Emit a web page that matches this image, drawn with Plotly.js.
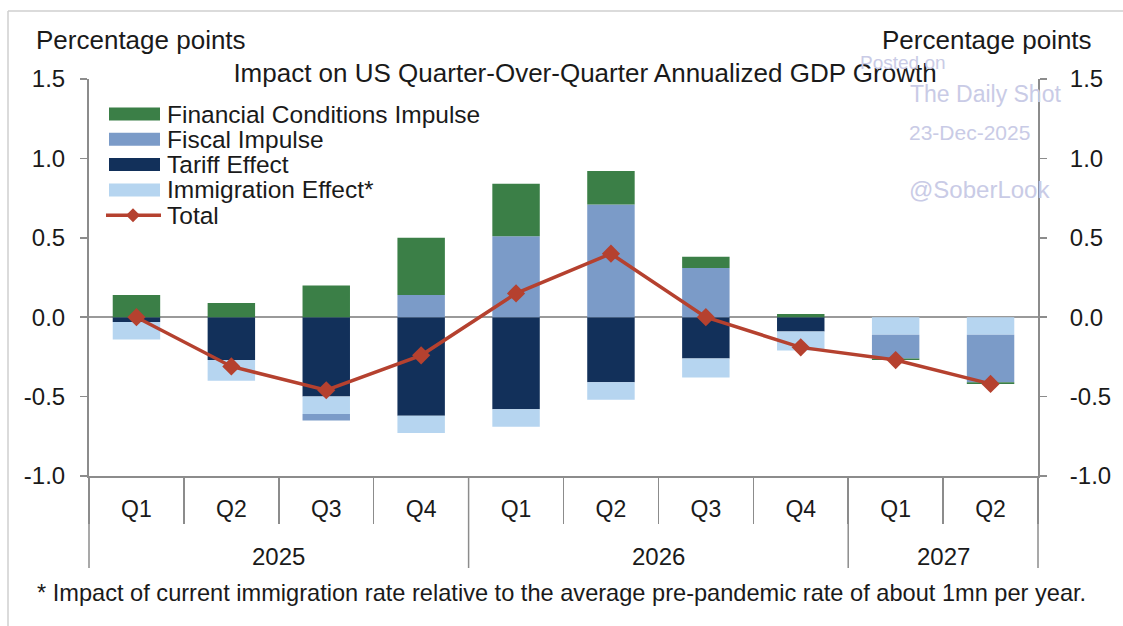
<!DOCTYPE html>
<html><head><meta charset="utf-8">
<script src="https://cdn.plot.ly/plotly-3.0.1.min.js"></script>
<style>html,body{margin:0;padding:0;background:#fff}#chart{width:1123px;height:626px}</style>
</head><body><div id="chart"></div>
<script>
// ---- data ----
const years = ['2025','2025','2025','2025','2026','2026','2026','2026','2027','2027'];
const quarters = ['Q1','Q2','Q3','Q4','Q1','Q2','Q3','Q4','Q1','Q2'];
const financial = [0.14, 0.09, 0.20, 0.36, 0.33, 0.21, 0.07, 0.02, -0.01, -0.01];
const fiscal = [0.00, 0.00, -0.04, 0.14, 0.51, 0.71, 0.31, 0.00, -0.15, -0.30];
const tariff = [-0.03, -0.27, -0.50, -0.62, -0.58, -0.41, -0.26, -0.09, 0.00, 0.00];
const immigration = [-0.11, -0.13, -0.11, -0.11, -0.11, -0.11, -0.12, -0.12, -0.11, -0.11];
const total = [0.00, -0.31, -0.46, -0.24, 0.15, 0.40, 0.00, -0.19, -0.27, -0.42];
const yTickVals = [-1.0, -0.5, 0.0, 0.5, 1.0, 1.5];
const yTickText = ['-1.0', '-0.5', '0.0', '0.5', '1.0', '1.5'];
const seriesNames = ['Financial Conditions Impulse', 'Fiscal Impulse', 'Tariff Effect', 'Immigration Effect*', 'Total'];

// ---- style ----
const FONT = 'Liberation Sans, Arial, sans-serif';
const TXT = '#1a1a1a';
const AX = '#8c8c8c';
const C = {fin: '#3b7f47', fis: '#7b9bc8', tar: '#12305a', imm: '#b6d5f0', tot: '#b5412f'};
const W = 1123, H = 626, L = 89, R = 1038, T = 79, B = 476;
const px = X => (X - L) / (R - L);
const py = Y => (B - Y) / (B - T);

// one unique category per quarter; the axis shows the quarter, the year is a second tier
const cats = years.map((y, i) => y + ' ' + quarters[i]);
const n = cats.length;
const x = cats;
const bar = (name, y, color) => ({type: 'bar', name, x, y, marker: {color, line: {width: 0}}, showlegend: false, hoverinfo: 'name+y'});
const traces = [
  bar(seriesNames[2], tariff, C.tar),
  bar(seriesNames[3], immigration, C.imm),
  bar(seriesNames[1], fiscal, C.fis),
  bar(seriesNames[0], financial, C.fin),
  {type: 'scatter', mode: 'lines+markers', name: seriesNames[4], x, y: total, yaxis: 'y2',
   line: {color: C.tot, width: 3.5}, marker: {symbol: 'diamond', size: 14, color: C.tot}, showlegend: false}
];

const yax = {
  range: [-1, 1.5], autorange: false, tickvals: yTickVals, ticktext: yTickText,
  ticks: 'outside', ticklen: 7, tickcolor: AX, tickwidth: 1.5,
  showline: true, linecolor: AX, linewidth: 2, showgrid: false,
  tickfont: {family: FONT, size: 24, color: TXT}
};

const shapes = [];
const annotations = [];

// year tier: labels centred under their quarters, dividers at year boundaries
const yearList = [...new Set(years)];
const bounds = [-0.5];
yearList.forEach(yr => {
  const idx = years.map((v, i) => v === yr ? i : -1).filter(i => i >= 0);
  const mid = (idx[0] + idx[idx.length - 1]) / 2;
  annotations.push({xref: 'x', yref: 'paper', x: mid, y: py(556), xanchor: 'center', yanchor: 'middle',
    text: yr, showarrow: false, font: {family: FONT, size: 24, color: TXT}});
  bounds.push(idx[idx.length - 1] + 0.5);
});
bounds.forEach(b => {
  const xp = (b + 0.5) / n;
  shapes.push({type: 'line', xref: 'paper', yref: 'paper', x0: xp, x1: xp, y0: 0, y1: py(568),
    line: {color: AX, width: 1.5}});
});

// manual legend (wide swatches like the original)
const legColors = [C.fin, C.fis, C.tar, C.imm];
const legY0 = 114, legDY = 25.3;
seriesNames.forEach((nm, i) => {
  const yc = legY0 + i * legDY;
  if (i < 4) {
    shapes.push({type: 'rect', xref: 'paper', yref: 'paper', x0: px(109), x1: px(160), y0: py(yc - 6.5), y1: py(yc + 6.5),
      fillcolor: legColors[i], line: {width: 0}});
  } else {
    shapes.push({type: 'line', xref: 'paper', yref: 'paper', x0: px(106), x1: px(161), y0: py(yc), y1: py(yc),
      line: {color: C.tot, width: 3.5}});
    shapes.push({type: 'path', xref: 'paper', yref: 'paper', fillcolor: C.tot, line: {width: 0},
      path: `M ${px(133)} ${py(yc - 7)} L ${px(140)} ${py(yc)} L ${px(133)} ${py(yc + 7)} L ${px(126)} ${py(yc)} Z`});
  }
  annotations.push({xref: 'paper', yref: 'paper', x: px(165), y: py(yc), xanchor: 'left', yanchor: 'middle',
    text: nm, showarrow: false, font: {family: FONT, size: 24.5, color: TXT}});
});

// frame
shapes.push({type: 'line', xref: 'paper', yref: 'paper', x0: px(8), x1: px(8), y0: py(11), y1: py(H + 5), line: {color: '#cfcfcf', width: 1.5}});
shapes.push({type: 'line', xref: 'paper', yref: 'paper', x0: px(8), x1: px(W + 5), y0: py(11), y1: py(11), line: {color: '#cfcfcf', width: 1.5}});

const ann = (t, X, Y, size, color, xa) => ({xref: 'paper', yref: 'paper', x: px(X), y: py(Y), xanchor: xa || 'left', yanchor: 'middle',
  text: t, showarrow: false, font: {family: FONT, size, color: color || TXT}});
annotations.push(ann('Percentage points', 34, 40, 26));
annotations.push(ann('Percentage points', 1094, 40, 26, TXT, 'right'));
const WM = '#c9cbe6';
annotations.push(ann('Posted on', 858, 62, 19, WM));
annotations.push(ann('The Daily Shot', 908, 94, 23, WM));
annotations.push(ann('23-Dec-2025', 907, 132, 21, WM));
annotations.push(ann('@SoberLook', 907, 189, 24, WM));
annotations.push(ann('* Impact of current immigration rate relative to the average pre-pandemic rate of about 1mn per year.', 561, 593, 23.6, TXT, 'center'));

const layout = {
  width: W, height: H, paper_bgcolor: '#fff', plot_bgcolor: '#fff',
  margin: {l: L, r: W - R, t: T, b: H - B, pad: 0},
  barmode: 'relative', bargap: 0.5,
  font: {family: FONT, color: TXT},
  title: {text: 'Impact on US Quarter-Over-Quarter Annualized GDP Growth', font: {family: FONT, size: 26, color: TXT},
    x: 585 / W, xanchor: 'center', xref: 'container', y: 1 - 73 / H, yanchor: 'middle', yref: 'container'},
  showlegend: false,
  xaxis: {type: 'category', range: [-0.5, n - 0.5], autorange: false, showline: true, linecolor: AX, linewidth: 2,
    tickmode: 'array', tickvals: cats, ticktext: quarters,
    ticks: 'outside', tickson: 'boundaries', ticklen: 46, tickcolor: AX, tickwidth: 1.5, ticklabelstandoff: 11,
    tickfont: {family: FONT, size: 23, color: TXT}, showgrid: false, zeroline: false},
  yaxis: Object.assign({}, yax, {zeroline: true, zerolinecolor: '#9a9a9a', zerolinewidth: 1.5, ticklabelstandoff: 10}),
  yaxis2: Object.assign({}, yax, {overlaying: 'y', side: 'right', matches: 'y', zeroline: false, ticklabelstandoff: 18}),
  shapes, annotations
};

Plotly.newPlot('chart', traces, layout, {displayModeBar: false, staticPlot: true});
</script></body></html>
